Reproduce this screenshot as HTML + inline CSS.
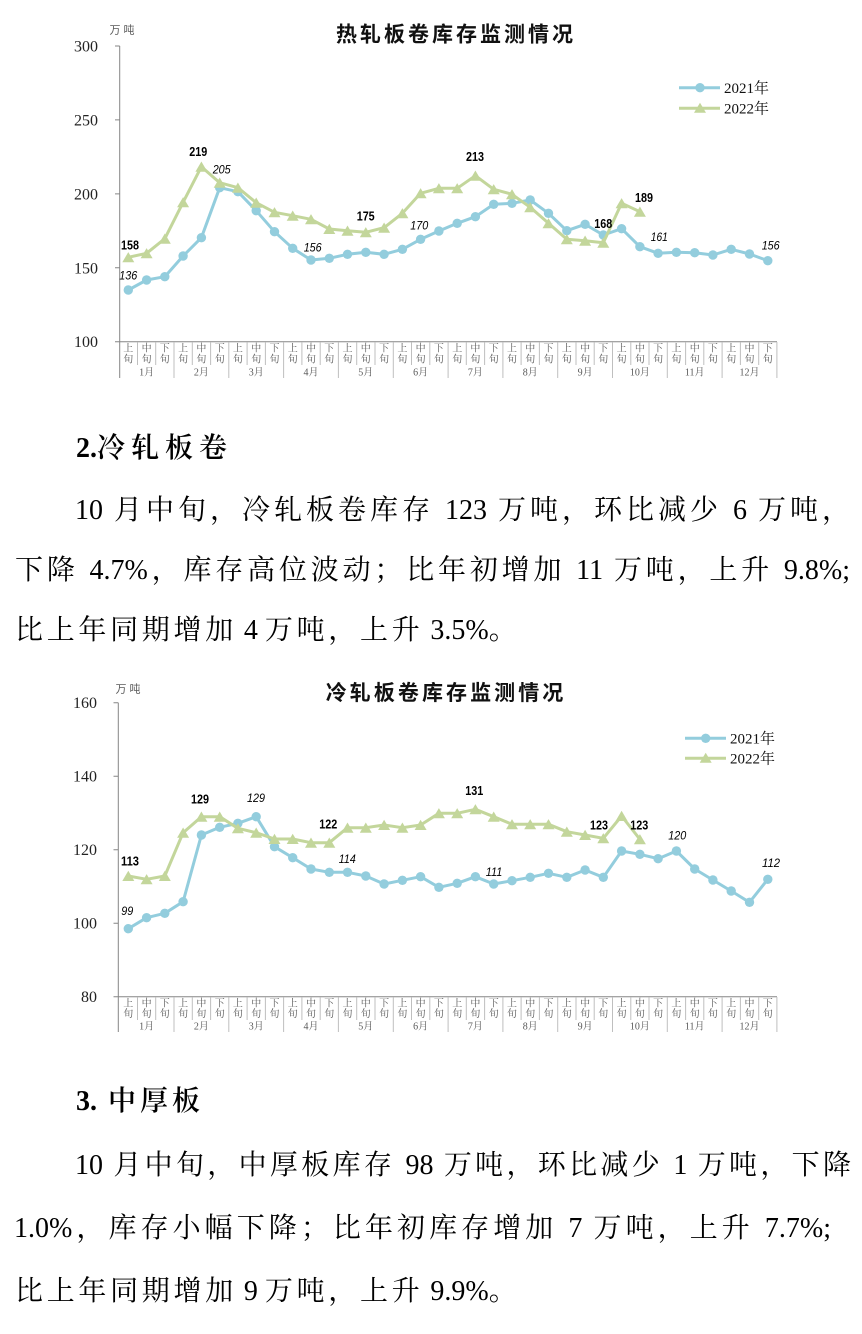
<!DOCTYPE html>
<html><head><meta charset="utf-8">
<style>
html,body{margin:0;padding:0;background:#fff;}
body{width:862px;height:1334px;position:relative;overflow:hidden;}
svg{position:absolute;left:0;top:0;}
.t{position:absolute;font-family:"Liberation Serif","Noto Serif CJK SC",serif;font-size:28px;line-height:40px;height:40px;color:#000;white-space:normal;}
.j{text-align:justify;text-align-last:justify;}
.h{font-weight:600;}
.l{letter-spacing:0;}
</style></head><body>
<svg width="862" height="1334" viewBox="0 0 862 1334" xmlns="http://www.w3.org/2000/svg">
<defs>
<marker id="mc" markerWidth="10" markerHeight="10" refX="5" refY="5" markerUnits="userSpaceOnUse" overflow="visible"><circle cx="5" cy="5" r="4.7" fill="#93CDDD"/></marker>
<marker id="mt" markerWidth="12" markerHeight="12" refX="6" refY="5.5" markerUnits="userSpaceOnUse" overflow="visible"><polygon points="6,0.3 0,10.5 12,10.5" fill="#C3D69B"/></marker>
</defs>

<!-- ================= CHART 1 ================= -->
<text x="336" y="41.4" textLength="237" lengthAdjust="spacing" font-family="Noto Sans CJK SC, sans-serif" font-weight="bold" font-size="21" fill="#111">热轧板卷库存监测情况</text>
<text x="109.5" y="33.5" textLength="25" lengthAdjust="spacing" font-family="Noto Sans CJK SC, sans-serif" font-size="11" fill="#595959">万吨</text>

<g font-family="Liberation Serif, serif" font-size="16" fill="#222" text-anchor="end">
<text x="98" y="51.5">300</text>
<text x="98" y="125.4">250</text>
<text x="98" y="199.4">200</text>
<text x="98" y="273.3">150</text>
<text x="98" y="347.2">100</text>
</g>
<g stroke="#868686" stroke-width="1" fill="none">
<path d="M119.7,46V378"/>
<path d="M115,46H119.7M115,119.9H119.7M115,193.9H119.7M115,267.8H119.7M115,341.7H119.7"/>
<path d="M119.7,341.7H777"/>
</g>
<g stroke="#BFBFBF" stroke-width="1" fill="none">
<path d="M137.5,342v23M155.7,342v23M192.3,342v23M210.6,342v23M247.1,342v23M265.4,342v23M301.9,342v23M320.2,342v23M356.7,342v23M375,342v23M411.5,342v23M429.8,342v23M466.3,342v23M484.6,342v23M521.1,342v23M539.4,342v23M576,342v23M594.2,342v23M630.8,342v23M649,342v23M685.6,342v23M703.8,342v23M740.4,342v23M758.7,342v23"/>
<path d="M174,342v36M228.8,342v36M283.6,342v36M338.4,342v36M393.3,342v36M448.1,342v36M502.9,342v36M557.7,342v36M612.5,342v36M667.3,342v36M722.1,342v36M776.9,342v36"/>
</g>
<g font-family="Noto Serif CJK SC, serif" font-size="10" fill="#595959" text-anchor="middle">
<text x="128.3 146.6 164.8 183.1 201.4 219.7 237.9 256.2 274.5 292.7 311 329.3 347.5 365.8 384.1 402.4 420.6 438.9 457.2 475.4 493.7 512 530.2 548.5 566.8 585.1 603.3 621.6 639.9 658.1 676.4 694.7 712.9 731.2 749.5 767.8" y="351.5">上中下上中下上中下上中下上中下上中下上中下上中下上中下上中下上中下上中下</text>
<text x="128.3 146.6 164.8 183.1 201.4 219.7 237.9 256.2 274.5 292.7 311 329.3 347.5 365.8 384.1 402.4 420.6 438.9 457.2 475.4 493.7 512 530.2 548.5 566.8 585.1 603.3 621.6 639.9 658.1 676.4 694.7 712.9 731.2 749.5 767.8" y="362.5">旬旬旬旬旬旬旬旬旬旬旬旬旬旬旬旬旬旬旬旬旬旬旬旬旬旬旬旬旬旬旬旬旬旬旬旬</text>
</g>
<g font-family="Liberation Serif, Noto Serif CJK SC, serif" font-size="10" fill="#595959" text-anchor="middle">
<text x="146.6" y="375.5">1月</text><text x="201.4" y="375.5">2月</text><text x="256.2" y="375.5">3月</text><text x="311" y="375.5">4月</text><text x="365.8" y="375.5">5月</text><text x="420.6" y="375.5">6月</text><text x="475.4" y="375.5">7月</text><text x="530.2" y="375.5">8月</text><text x="585.1" y="375.5">9月</text><text x="639.9" y="375.5">10月</text><text x="694.7" y="375.5">11月</text><text x="749.5" y="375.5">12月</text>
</g>

<polyline fill="none" stroke="#93CDDD" stroke-width="3" stroke-linejoin="round" marker-start="url(#mc)" marker-mid="url(#mc)" marker-end="url(#mc)" points="128.3,290 146.6,280 164.8,276.7 183.1,256 201.4,237.7 219.7,187.7 237.9,191.7 256.2,210.7 274.5,231.7 292.7,248.3 311,260 329.3,258.3 347.5,254.3 365.8,252.3 384.1,254.3 402.4,249.3 420.6,239.3 438.9,231 457.2,223.3 475.4,216.7 493.7,204.3 512,203.3 530.2,200 548.5,213.3 566.8,230.7 585.1,224.3 603.3,235 621.6,228.7 639.9,246.7 658.1,253.3 676.4,252.3 694.7,252.7 712.9,255 731.2,249.3 749.5,254 767.8,260.7"/>
<polyline fill="none" stroke="#C3D69B" stroke-width="3" stroke-linejoin="round" marker-start="url(#mt)" marker-mid="url(#mt)" marker-end="url(#mt)" points="128.3,257.3 146.6,253.3 164.8,238.7 183.1,202.3 201.4,166.7 219.7,182.7 237.9,187.7 256.2,202.7 274.5,212.3 292.7,215.7 311,219.3 329.3,229 347.5,230.7 365.8,232.3 384.1,227.7 402.4,213.3 420.6,193.3 438.9,188.3 457.2,188.3 475.4,175.7 493.7,189.3 512,194.3 530.2,207.3 548.5,223.3 566.8,239.3 585.1,240.7 603.3,242.7 621.6,203.3 639.9,211.7"/>

<g font-family="Liberation Sans, sans-serif" font-size="12.5" font-weight="bold" fill="#000" text-anchor="middle">
<text x="130" y="249.5" textLength="18" lengthAdjust="spacingAndGlyphs">158</text>
<text x="198.3" y="156.2" textLength="18" lengthAdjust="spacingAndGlyphs">219</text>
<text x="365.7" y="220.5" textLength="18" lengthAdjust="spacingAndGlyphs">175</text>
<text x="475" y="161.2" textLength="18" lengthAdjust="spacingAndGlyphs">213</text>
<text x="644" y="202.2" textLength="18" lengthAdjust="spacingAndGlyphs">189</text>
<text x="603.3" y="228.2" textLength="18" lengthAdjust="spacingAndGlyphs">168</text>
</g>
<g font-family="Liberation Sans, sans-serif" font-size="12" font-style="italic" fill="#000" text-anchor="middle">
<text x="128.3" y="279.5" textLength="18" lengthAdjust="spacingAndGlyphs">136</text>
<text x="221.7" y="173.5" textLength="18" lengthAdjust="spacingAndGlyphs">205</text>
<text x="312.7" y="251.5" textLength="18" lengthAdjust="spacingAndGlyphs">156</text>
<text x="419.3" y="229.5" textLength="18" lengthAdjust="spacingAndGlyphs">170</text>
<text x="659.3" y="241.2" textLength="17" lengthAdjust="spacingAndGlyphs">161</text>
<text x="770.7" y="249.5" textLength="18" lengthAdjust="spacingAndGlyphs">156</text>
</g>

<!-- legend 1 -->
<path d="M679,87.7H720" stroke="#93CDDD" stroke-width="3"/>
<circle cx="700" cy="87.7" r="4.7" fill="#93CDDD"/>
<path d="M679,108.3H720" stroke="#C3D69B" stroke-width="3"/>
<polygon points="700,102.8 694,112.8 706,112.8" fill="#C3D69B"/>
<g font-family="Liberation Serif, Noto Serif CJK SC, serif" font-size="15" fill="#111">
<text x="724" y="92.8">2021年</text>
<text x="724" y="113.4">2022年</text>
</g>

<!-- ================= CHART 2 ================= -->
<text x="325.7" y="700.1" textLength="237.6" lengthAdjust="spacing" font-family="Noto Sans CJK SC, sans-serif" font-weight="bold" font-size="21" fill="#111">冷轧板卷库存监测情况</text>
<text x="115.5" y="692.5" textLength="25" lengthAdjust="spacing" font-family="Noto Sans CJK SC, sans-serif" font-size="11" fill="#595959">万吨</text>

<g font-family="Liberation Serif, serif" font-size="16" fill="#222" text-anchor="end">
<text x="97" y="708.2">160</text>
<text x="97" y="781.7">140</text>
<text x="97" y="855.2">120</text>
<text x="97" y="928.7">100</text>
<text x="97" y="1002.2">80</text>
</g>
<g stroke="#868686" stroke-width="1" fill="none">
<path d="M118.3,702.7V1032"/>
<path d="M113.5,702.7H118.3M113.5,776.2H118.3M113.5,849.7H118.3M113.5,923.2H118.3M113.5,996.7H118.3"/>
<path d="M118.3,996.7H777"/>
</g>
<g stroke="#BFBFBF" stroke-width="1" fill="none">
<path d="M137.5,997v23M155.7,997v23M192.3,997v23M210.6,997v23M247.1,997v23M265.4,997v23M301.9,997v23M320.2,997v23M356.7,997v23M375,997v23M411.5,997v23M429.8,997v23M466.3,997v23M484.6,997v23M521.1,997v23M539.4,997v23M576,997v23M594.2,997v23M630.8,997v23M649,997v23M685.6,997v23M703.8,997v23M740.4,997v23M758.7,997v23"/>
<path d="M174,997v35M228.8,997v35M283.6,997v35M338.4,997v35M393.3,997v35M448.1,997v35M502.9,997v35M557.7,997v35M612.5,997v35M667.3,997v35M722.1,997v35M776.9,997v35"/>
</g>
<g font-family="Noto Serif CJK SC, serif" font-size="10" fill="#595959" text-anchor="middle">
<text x="128.3 146.6 164.8 183.1 201.4 219.7 237.9 256.2 274.5 292.7 311 329.3 347.5 365.8 384.1 402.4 420.6 438.9 457.2 475.4 493.7 512 530.2 548.5 566.8 585.1 603.3 621.6 639.9 658.1 676.4 694.7 712.9 731.2 749.5 767.8" y="1006.3">上中下上中下上中下上中下上中下上中下上中下上中下上中下上中下上中下上中下</text>
<text x="128.3 146.6 164.8 183.1 201.4 219.7 237.9 256.2 274.5 292.7 311 329.3 347.5 365.8 384.1 402.4 420.6 438.9 457.2 475.4 493.7 512 530.2 548.5 566.8 585.1 603.3 621.6 639.9 658.1 676.4 694.7 712.9 731.2 749.5 767.8" y="1017">旬旬旬旬旬旬旬旬旬旬旬旬旬旬旬旬旬旬旬旬旬旬旬旬旬旬旬旬旬旬旬旬旬旬旬旬</text>
</g>
<g font-family="Liberation Serif, Noto Serif CJK SC, serif" font-size="10" fill="#595959" text-anchor="middle">
<text x="146.6" y="1029.7">1月</text><text x="201.4" y="1029.7">2月</text><text x="256.2" y="1029.7">3月</text><text x="311" y="1029.7">4月</text><text x="365.8" y="1029.7">5月</text><text x="420.6" y="1029.7">6月</text><text x="475.4" y="1029.7">7月</text><text x="530.2" y="1029.7">8月</text><text x="585.1" y="1029.7">9月</text><text x="639.9" y="1029.7">10月</text><text x="694.7" y="1029.7">11月</text><text x="749.5" y="1029.7">12月</text>
</g>

<polyline fill="none" stroke="#93CDDD" stroke-width="3" stroke-linejoin="round" marker-start="url(#mc)" marker-mid="url(#mc)" marker-end="url(#mc)" points="128.3,928.7 146.6,917.7 164.8,913.3 183.1,901.7 201.4,835 219.7,827.3 237.9,823.3 256.2,816.7 274.5,846.7 292.7,857.7 311,869 329.3,872.3 347.5,872.3 365.8,876 384.1,884 402.4,880.3 420.6,876.7 438.9,887.3 457.2,883.3 475.4,876.7 493.7,884 512,880.7 530.2,877.3 548.5,873.3 566.8,877.3 585.1,870 603.3,877.3 621.6,851 639.9,854.3 658.1,858.7 676.4,851 694.7,869 712.9,880 731.2,891 749.5,902.3 767.8,879.3"/>
<polyline fill="none" stroke="#C3D69B" stroke-width="3" stroke-linejoin="round" marker-start="url(#mt)" marker-mid="url(#mt)" marker-end="url(#mt)" points="128.3,876 146.6,879.3 164.8,876 183.1,832.7 201.4,816.7 219.7,816.7 237.9,828.3 256.2,832.7 274.5,839 292.7,839 311,842.7 329.3,842.7 347.5,827.7 365.8,827.7 384.1,825 402.4,827.7 420.6,825 438.9,813.3 457.2,813.3 475.4,809.3 493.7,816.7 512,824.3 530.2,824.3 548.5,824.3 566.8,831.7 585.1,835 603.3,838.3 621.6,816 639.9,839.3"/>

<g font-family="Liberation Sans, sans-serif" font-size="12.5" font-weight="bold" fill="#000" text-anchor="middle">
<text x="130" y="865.5" textLength="18" lengthAdjust="spacingAndGlyphs">113</text>
<text x="200" y="803.5" textLength="18" lengthAdjust="spacingAndGlyphs">129</text>
<text x="328.3" y="828.5" textLength="18" lengthAdjust="spacingAndGlyphs">122</text>
<text x="474.3" y="795.2" textLength="18" lengthAdjust="spacingAndGlyphs">131</text>
<text x="599" y="829.5" textLength="18" lengthAdjust="spacingAndGlyphs">123</text>
<text x="639.3" y="829.5" textLength="18" lengthAdjust="spacingAndGlyphs">123</text>
</g>
<g font-family="Liberation Sans, sans-serif" font-size="12" font-style="italic" fill="#000" text-anchor="middle">
<text x="127.3" y="915.2" textLength="12" lengthAdjust="spacingAndGlyphs">99</text>
<text x="256" y="801.8" textLength="18" lengthAdjust="spacingAndGlyphs">129</text>
<text x="347.3" y="862.8" textLength="17" lengthAdjust="spacingAndGlyphs">114</text>
<text x="494" y="876.2" textLength="16.5" lengthAdjust="spacingAndGlyphs">111</text>
<text x="677.3" y="839.5" textLength="18" lengthAdjust="spacingAndGlyphs">120</text>
<text x="771" y="867.2" textLength="18" lengthAdjust="spacingAndGlyphs">112</text>
</g>

<!-- legend 2 -->
<path d="M685,738.3H726" stroke="#93CDDD" stroke-width="3"/>
<circle cx="705.7" cy="738.3" r="4.7" fill="#93CDDD"/>
<path d="M685,758.3H726" stroke="#C3D69B" stroke-width="3"/>
<polygon points="705.7,752.8 699.7,762.8 711.7,762.8" fill="#C3D69B"/>
<g font-family="Liberation Serif, Noto Serif CJK SC, serif" font-size="15" fill="#111">
<text x="730" y="743.4">2021年</text>
<text x="730" y="763.4">2022年</text>
</g>
</svg>

<!-- ================= TEXT ================= -->
<div class="t h" style="left:76px;top:429px">2.<span style="letter-spacing:6px">冷轧板卷</span></div>
<div class="t j" style="left:75px;width:775px;top:491px">10 月中旬，冷轧板卷库存 123 万吨，环比减少 6 万吨，</div>
<div class="t j" style="left:15px;width:835px;top:551px">下降 4.7%，库存高位波动；比年初增加 11 万吨，上升 9.8%;</div>
<div class="t" style="left:15px;top:611px;letter-spacing:3.7px">比上年同期增加<span class="l"> 4 </span>万吨，上升<span class="l"> 3.5%</span>。</div>

<div class="t h" style="left:76px;top:1082px">3.<span style="margin-left:11px;letter-spacing:4px">中厚板</span></div>
<div class="t j" style="left:75px;width:776px;top:1146px">10 月中旬，中厚板库存 98 万吨，环比减少 1 万吨，下降</div>
<div class="t j" style="left:14px;width:817px;top:1209px">1.0%，库存小幅下降；比年初库存增加 7 万吨，上升 7.7%;</div>
<div class="t" style="left:15px;top:1272px;letter-spacing:3.7px">比上年同期增加<span class="l"> 9 </span>万吨，上升<span class="l"> 9.9%</span>。</div>
</body></html>
